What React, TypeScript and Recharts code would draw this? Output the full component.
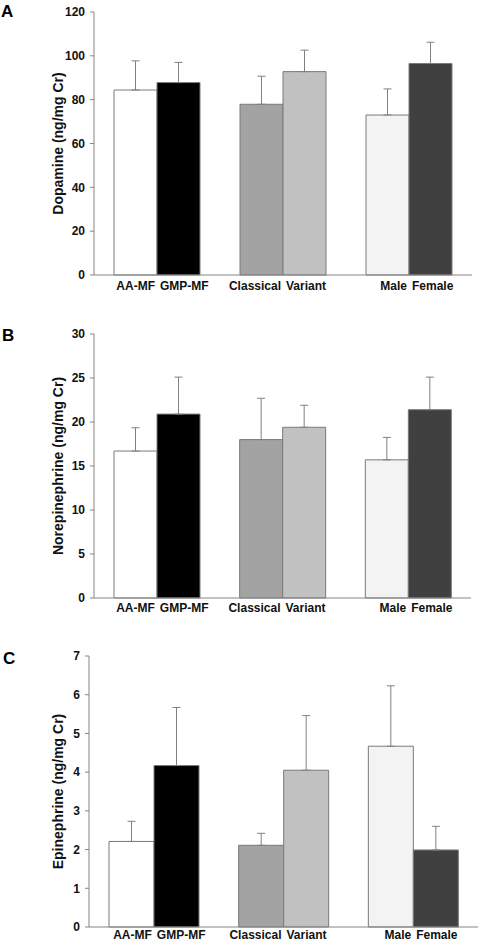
import { BarChart, Bar, XAxis, YAxis, ErrorBar, Cell } from 'recharts'

// categories (pairs of bars per group)
const groups = ['Medical food', 'Phenotype', 'Sex']
const leftLabels = ['AA-MF', 'Classical', 'Male']
const rightLabels = ['GMP-MF', 'Variant', 'Female']
const leftColors = ['#ffffff', '#a3a3a3', '#f3f3f3']
const rightColors = ['#000000', '#c1c1c1', '#404040']

// panel A: dopamine
const dopamineLeft = [84.4, 77.9, 73.0]
const dopamineLeftSd = [13.3, 12.8, 11.9]
const dopamineRight = [87.8, 92.8, 96.5]
const dopamineRightSd = [9.2, 9.8, 9.7]
const dopamineTicks = [0, 20, 40, 60, 80, 100, 120]

// panel B: norepinephrine
const norepiLeft = [16.7, 18.0, 15.7]
const norepiLeftSd = [2.65, 4.7, 2.55]
const norepiRight = [20.9, 19.4, 21.4]
const norepiRightSd = [4.2, 2.5, 3.7]
const norepiTicks = [0, 5, 10, 15, 20, 25, 30]

// panel C: epinephrine
const epiLeft = [2.21, 2.11, 4.67]
const epiLeftSd = [0.52, 0.31, 1.56]
const epiRight = [4.17, 4.05, 1.99]
const epiRightSd = [1.5, 1.41, 0.61]
const epiTicks = [0, 1, 2, 3, 4, 5, 6, 7]

const FONT = '"Liberation Sans", Arial, sans-serif'
const AXIS = '#858585'

const build = (l: number[], lsd: number[], r: number[], rsd: number[]) =>
  groups.map((g, i) => ({
    group: g,
    left: l[i],
    leftErr: [0, lsd[i]],
    right: r[i],
    rightErr: [0, rsd[i]],
  }))

// two labels under each group: left one ends near the group centre, right one starts there
const PairTick = (props: any) => {
  const { x, y, index, dy } = props
  return (
    <g fontFamily={FONT} fontWeight="bold" fontSize={12} fill="#111">
      <text x={x - 2} y={y + dy} textAnchor="end">
        {leftLabels[index]}
      </text>
      <text x={x + 3} y={y + dy} textAnchor="start">
        {rightLabels[index]}
      </text>
    </g>
  )
}

interface PanelProps {
  letter: string
  yLabel: string
  data: any[]
  ticks: number[]
  top: number
  height: number
  marginTop: number
  marginRight: number
  axisWidth: number
  xAxisHeight: number
  labelDy: number
  letterTop: number
  letterLeft: number
}

function Panel(p: PanelProps) {
  const max = p.ticks[p.ticks.length - 1]
  return (
    <div style={{ position: 'absolute', left: 0, top: p.top, width: 478, height: p.height }}>
      <div
        style={{
          position: 'absolute',
          left: p.letterLeft,
          top: p.letterTop,
          fontFamily: FONT,
          fontWeight: 'bold',
          fontSize: 17,
          lineHeight: '17px',
        }}
      >
        {p.letter}
      </div>
      <BarChart
        width={478}
        height={p.height}
        data={p.data}
        margin={{ top: p.marginTop, right: p.marginRight, left: 0, bottom: 0 }}
        barCategoryGap={20}
        barGap={0}
      >
        <XAxis
          dataKey="group"
          stroke={AXIS}
          tickLine={false}
          tickSize={0}
          tickMargin={0}
          height={p.xAxisHeight}
          interval={0}
          tick={(t: any) => <PairTick {...t} dy={p.labelDy} />}
        />
        <YAxis
          width={p.axisWidth}
          domain={[0, max]}
          ticks={p.ticks}
          interval={0}
          stroke={AXIS}
          tickSize={4}
          tickMargin={5}
          tick={{ fill: '#111', fontFamily: FONT, fontWeight: 'bold', fontSize: 12 }}
          label={(lp: any) => {
            const vb = lp.viewBox
            const cy = vb.y + vb.height / 2
            const cx = 58
            return (
              <text
                x={cx}
                y={cy}
                transform={`rotate(-90, ${cx}, ${cy})`}
                textAnchor="middle"
                dominantBaseline="central"
                fontFamily={FONT}
                fontWeight="bold"
                fontSize={14}
                fill="#111"
              >
                {p.yLabel}
              </text>
            )
          }}
        />
        <Bar dataKey="left" stroke="#7a7a7a" strokeWidth={1} isAnimationActive={false}>
          {p.data.map((_, i) => (
            <Cell key={i} fill={leftColors[i]} />
          ))}
          <ErrorBar dataKey="leftErr" width={4} stroke="#808080" strokeWidth={1} isAnimationActive={false} />
        </Bar>
        <Bar dataKey="right" stroke="#7a7a7a" strokeWidth={1} isAnimationActive={false}>
          {p.data.map((_, i) => (
            <Cell key={i} fill={rightColors[i]} />
          ))}
          <ErrorBar dataKey="rightErr" width={4} stroke="#808080" strokeWidth={1} isAnimationActive={false} />
        </Bar>
      </BarChart>
    </div>
  )
}

export default function App() {
  return (
    <div style={{ position: 'relative', width: 478, height: 942, background: '#fff' }}>
      <style>{'body{margin:0}'}</style>
      <Panel
        letter="A"
        yLabel="Dopamine (ng/mg Cr)"
        data={build(dopamineLeft, dopamineLeftSd, dopamineRight, dopamineRightSd)}
        ticks={dopamineTicks}
        top={0}
        height={300}
        marginTop={12}
        marginRight={6}
        axisWidth={94}
        xAxisHeight={25}
        labelDy={15}
        letterTop={3}
        letterLeft={1}
      />
      <Panel
        letter="B"
        yLabel="Norepinephrine (ng/mg Cr)"
        data={build(norepiLeft, norepiLeftSd, norepiRight, norepiRightSd)}
        ticks={norepiTicks}
        top={320}
        height={300}
        marginTop={14}
        marginRight={7}
        axisWidth={94}
        xAxisHeight={22}
        labelDy={14}
        letterTop={7}
        letterLeft={2}
      />
      <Panel
        letter="C"
        yLabel="Epinephrine (ng/mg Cr)"
        data={build(epiLeft, epiLeftSd, epiRight, epiRightSd)}
        ticks={epiTicks}
        top={640}
        height={302}
        marginTop={16}
        marginRight={0}
        axisWidth={89}
        xAxisHeight={15}
        labelDy={12}
        letterTop={10}
        letterLeft={3}
      />
    </div>
  )
}
